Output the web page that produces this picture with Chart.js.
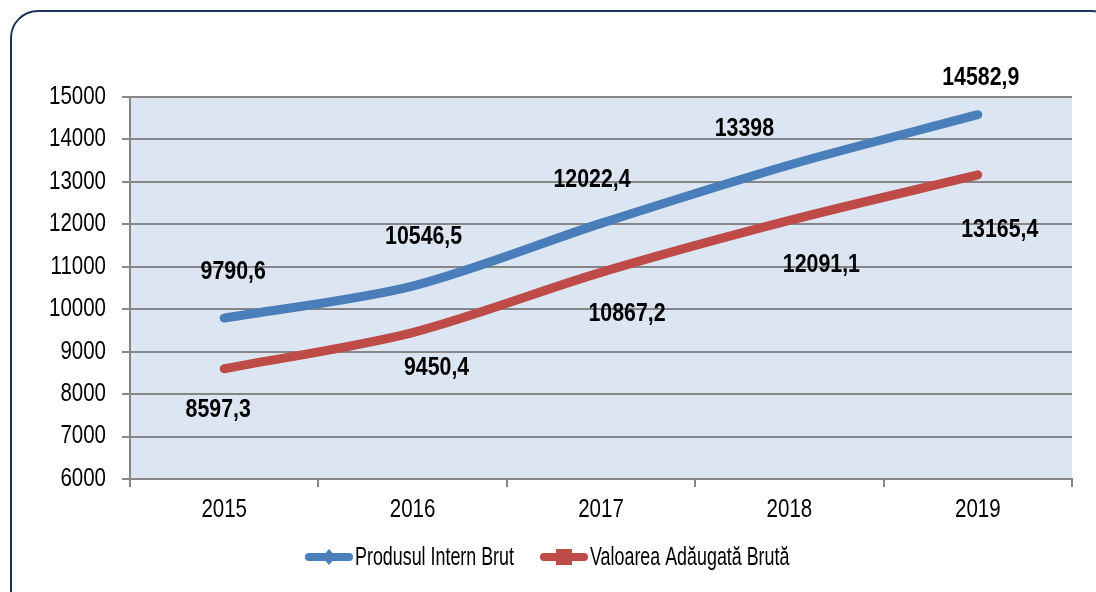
<!DOCTYPE html>
<html>
<head>
<meta charset="utf-8">
<script src="https://cdn.jsdelivr.net/npm/chart.js@4/dist/chart.umd.min.js"></script>
<style>
  html, body { margin: 0; padding: 0; width: 1096px; height: 592px; overflow: hidden; background: #ffffff; }
  #wrap { position: relative; width: 1096px; height: 592px; }
  #frame { position: absolute; left: 10px; top: 10px; width: 1110px; height: 610px; box-sizing: border-box;
           border: 2px solid #1c3353; border-radius: 28px; pointer-events: none; }
  canvas { position: absolute; left: 0; top: 0; }
</style>
</head>
<body>
<div id="wrap">
  <canvas id="c" width="1096" height="592"></canvas>
  <div id="frame"></div>
</div>
<script>
const categories = ['2015', '2016', '2017', '2018', '2019'];
const pibValues = [9790.6, 10546.5, 12022.4, 13398, 14582.9];
const vabValues = [8597.3, 9450.4, 10867.2, 12091.1, 13165.4];
const seriesNames = ['Produsul Intern Brut', 'Valoarea Adăugată Brută'];
const yTicks = [6000, 7000, 8000, 9000, 10000, 11000, 12000, 13000, 14000, 15000];

const BLUE = '#4a7ebb';
const RED = '#be4b48';
const FONT = '"Liberation Sans", Arial, sans-serif';
const NARROW = 0.82;

const fmt = v => String(v).replace('.', ',');

function narrowText(ctx, text, x, y, align, font, sx) {
  ctx.save();
  ctx.font = font;
  ctx.fillStyle = '#000000';
  ctx.textAlign = align;
  ctx.textBaseline = 'middle';
  ctx.translate(x, y);
  ctx.scale(sx || NARROW, 1);
  ctx.fillText(text, 0, 0);
  ctx.restore();
}

const plotBg = {
  id: 'plotBg',
  beforeDraw(chart) {
    const { ctx, chartArea: a } = chart;
    ctx.save();
    ctx.fillStyle = '#dce6f2';
    ctx.fillRect(a.left, a.top, a.right - a.left, a.bottom - a.top);
    ctx.restore();
  }
};

const tickText = {
  id: 'tickText',
  afterDraw(chart) {
    const { ctx } = chart;
    const xs = chart.scales.x, ys = chart.scales.y;
    const f = '25px ' + FONT;
    ys.ticks.forEach((t, i) => {
      narrowText(ctx, String(t.value), xs.left - 24, ys.getPixelForTick(i), 'right', f);
    });
    xs.ticks.forEach((t, i) => {
      narrowText(ctx, xs.getLabelForValue(t.value), xs.getPixelForTick(i), ys.bottom + 31, 'center', f);
    });
  }
};

const valueLabels = {
  id: 'valueLabels',
  afterDatasetsDraw(chart, args, opts) {
    const { ctx } = chart;
    chart.data.datasets.forEach((ds, i) => {
      const meta = chart.getDatasetMeta(i);
      const offs = opts.offsets[i];
      meta.data.forEach((pt, j) => {
        narrowText(ctx, fmt(ds.data[j]), pt.x + offs[j][0], pt.y + offs[j][1], 'center', 'bold 26px ' + FONT);
      });
    });
  }
};

const customLegend = {
  id: 'customLegend',
  afterDraw(chart, args, opts) {
    const { ctx } = chart;
    const y = opts.y;
    chart.data.datasets.forEach((ds, i) => {
      const x0 = opts.xs[i];
      ctx.save();
      ctx.strokeStyle = ds.borderColor;
      ctx.lineWidth = 8;
      ctx.lineCap = 'round';
      ctx.beginPath();
      ctx.moveTo(x0 + 4, y);
      ctx.lineTo(x0 + 44, y);
      ctx.stroke();
      ctx.fillStyle = ds.borderColor;
      const cx = x0 + 24;
      if (i === 0) {
        ctx.beginPath();
        ctx.moveTo(cx, y - 8);
        ctx.lineTo(cx + 7, y);
        ctx.lineTo(cx, y + 8);
        ctx.lineTo(cx - 7, y);
        ctx.closePath();
        ctx.fill();
      } else {
        ctx.fillRect(cx - 8, y - 8, 16, 16);
      }
      ctx.restore();
      narrowText(ctx, ds.label, x0 + 50, y + 1, 'left', '25px ' + FONT, 0.715);
    });
  }
};

new Chart(document.getElementById('c'), {
  type: 'line',
  data: {
    labels: categories,
    datasets: [
      { label: seriesNames[0], data: pibValues, borderColor: BLUE, backgroundColor: BLUE },
      { label: seriesNames[1], data: vabValues, borderColor: RED, backgroundColor: RED }
    ]
  },
  options: {
    responsive: false,
    animation: false,
    devicePixelRatio: 1,
    layout: { padding: { left: 0, right: 24, top: 97, bottom: 0 } },
    elements: {
      line: { borderWidth: 9, tension: 0.3, borderCapStyle: 'round', borderJoinStyle: 'round', fill: false },
      point: { radius: 0, hoverRadius: 0 }
    },
    scales: {
      x: {
        offset: true,
        grid: { offset: true, drawOnChartArea: false, drawTicks: true, tickLength: 8, color: '#868686', lineWidth: 2 },
        border: { display: true, color: '#868686', width: 2 },
        ticks: { color: 'rgba(0,0,0,0)', font: { family: FONT, size: 25 }, padding: 6 },
        afterFit(scale) { scale.height = 113; }
      },
      y: {
        min: 6000,
        max: 15000,
        afterBuildTicks(scale) { scale.ticks = yTicks.map(v => ({ value: v })); },
        grid: { color: '#868686', lineWidth: 2, tickLength: 8, drawTicks: true },
        border: { display: true, color: '#868686', width: 2 },
        ticks: { color: 'rgba(0,0,0,0)', font: { family: FONT, size: 25 }, padding: 16, callback: v => String(v) },
        afterFit(scale) { scale.width = 130; }
      }
    },
    plugins: {
      legend: { display: false },
      tooltip: { enabled: false },
      valueLabels: {
        offsets: [
          [[9, -46], [11, -49], [-9, -44], [-45, -36], [3, -37]],
          [[-6, 41], [24, 35], [26, 41], [32, 44], [22, 55]]
        ]
      },
      customLegend: { y: 557, xs: [305, 540] }
    }
  },
  plugins: [plotBg, tickText, valueLabels, customLegend]
});
</script>
</body>
</html>
